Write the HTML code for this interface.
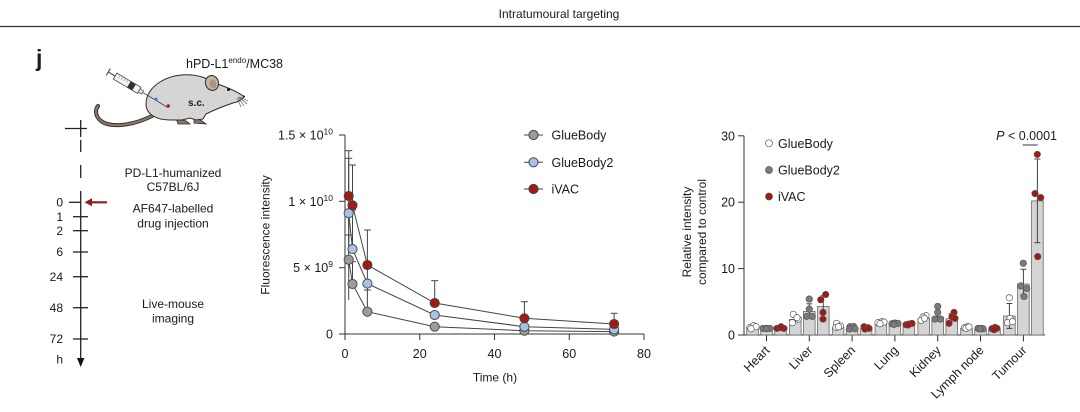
<!DOCTYPE html>
<html>
<head>
<meta charset="utf-8">
<style>
  html,body{margin:0;padding:0;background:#fff;}
  body{width:1080px;height:412px;overflow:hidden;}
  svg{display:block;font-family:"Liberation Sans",Arial,sans-serif;}
  text{fill:#1a1a1a;}
</style>
</head>
<body>
<svg width="1080" height="412" viewBox="0 0 1080 412" xmlns="http://www.w3.org/2000/svg">
  <!-- Header -->
  <text x="559" y="18" font-size="12" text-anchor="middle">Intratumoural targeting</text>
  <line x1="0" y1="26.5" x2="1080" y2="26.5" stroke="#333" stroke-width="1.3"/>

  <!-- Panel label -->
  <text x="36" y="66" font-size="23" font-weight="bold">j</text>

  <!-- Mouse label -->
  <text x="186" y="68" font-size="12.5">hPD-L1<tspan font-size="8" dy="-5">endo</tspan><tspan dy="5">/MC38</tspan></text>

  <!-- Mouse drawing -->
  <g>
    <!-- tail -->
    <path d="M152,116 C132,126 110,128 101,121 C95,116 95,110 98,106" fill="none" stroke="#2e2a27" stroke-width="4" stroke-linecap="round"/>
    <path d="M152,116 C132,126 110,128 101,121 C95,116 95,110 98,106" fill="none" stroke="#8b7868" stroke-width="2.2" stroke-linecap="round"/>
    <!-- feet -->
    <path d="M176,118 L186,121 L190,124 L178,124 Z" fill="#8b7868" stroke="#2e2a27" stroke-width="0.8"/>
    <path d="M194,117 L202,121 L206,124 L194,123 Z" fill="#8b7868" stroke="#2e2a27" stroke-width="0.8"/>
    <!-- body -->
    <path d="M146,104 C146,86 168,73 192,75 C202,76 208,79 214,83 C224,86 236,91 244,96.5 C242,100 238,102 233,103 C224,106 214,110 206,114 L203,119 L196,120 L190,118 L182,120 L170,120 C156,120 146,114 146,104 Z" fill="#d5d5d5" stroke="#2e2a27" stroke-width="1"/>
    <!-- ear -->
    <ellipse cx="212" cy="83" rx="6.5" ry="7.5" fill="#c6b4a4" stroke="#2e2a27" stroke-width="1" transform="rotate(-15 212 83)"/>
    <ellipse cx="213" cy="84" rx="3.5" ry="4.5" fill="#a99585" transform="rotate(-15 213 84)"/>
    <!-- eye and nose -->
    <circle cx="228.5" cy="89.5" r="1.5" fill="#111"/>
    <circle cx="244" cy="96.5" r="1" fill="#111"/>
    <!-- whiskers -->
    <g stroke="#444" stroke-width="0.6" fill="none">
      <path d="M238,97 L244,106"/>
      <path d="M239,97 L247,104"/>
      <path d="M237,98 L241,107"/>
      <path d="M240,97 L248,101"/>
    </g>
    <!-- syringe -->
    <g transform="translate(110,73) rotate(30.8)">
      <line x1="-2" y1="0" x2="6" y2="0" stroke="#555" stroke-width="1.2"/>
      <line x1="-2" y1="-4" x2="-2" y2="4" stroke="#555" stroke-width="1.2"/>
      <rect x="6" y="-3.5" width="28" height="7" fill="#f4f4f4" stroke="#444" stroke-width="0.8"/>
      <rect x="22" y="-3.5" width="6" height="7" fill="#333"/>
      <g stroke="#777" stroke-width="0.5">
        <line x1="10" y1="-3.5" x2="10" y2="0"/><line x1="13" y1="-3.5" x2="13" y2="0"/>
        <line x1="16" y1="-3.5" x2="16" y2="0"/><line x1="19" y1="-3.5" x2="19" y2="0"/>
      </g>
      <rect x="34" y="-2" width="4" height="4" fill="#ddd" stroke="#444" stroke-width="0.6"/>
      <line x1="38" y1="0" x2="67" y2="0" stroke="#333" stroke-width="0.8"/>
    </g>
    <circle cx="156" cy="99.3" r="1.7" fill="#3d82c7"/>
    <circle cx="168.3" cy="106" r="1.7" fill="#b01818"/>
    <text x="188" y="106" font-size="10" font-weight="bold">s.c.</text>
  </g>

  <!-- Timeline -->
  <g stroke="#222" stroke-width="1.3">
    <line x1="65" y1="128.5" x2="87" y2="128.5"/>
    <line x1="80.7" y1="120" x2="80.7" y2="137"/>
    <line x1="80.7" y1="140" x2="80.7" y2="152"/>
    <line x1="80.7" y1="165" x2="80.7" y2="178"/>
    <line x1="80.7" y1="191" x2="80.7" y2="360"/>
    <line x1="69" y1="202.3" x2="81" y2="202.3"/>
    <line x1="73" y1="216.7" x2="88" y2="216.7"/>
    <line x1="73" y1="230.7" x2="88" y2="230.7"/>
    <line x1="73" y1="252" x2="88" y2="252"/>
    <line x1="73" y1="276.7" x2="88" y2="276.7"/>
    <line x1="73" y1="307.7" x2="88" y2="307.7"/>
    <line x1="73" y1="339" x2="88" y2="339"/>
  </g>
  <polygon points="77,358 84.4,358 80.7,367" fill="#111"/>
  <!-- red arrow -->
  <line x1="90" y1="202.3" x2="107" y2="202.3" stroke="#8b1e1e" stroke-width="2.2"/>
  <polygon points="84.5,202.3 92,198.3 92,206.3" fill="#8b1e1e"/>
  <g font-size="12" text-anchor="end">
    <text x="63" y="206.5">0</text>
    <text x="63" y="220.9">1</text>
    <text x="63" y="234.9">2</text>
    <text x="63" y="256.2">6</text>
    <text x="63" y="280.9">24</text>
    <text x="63" y="311.9">48</text>
    <text x="63" y="343.2">72</text>
    <text x="63" y="363.5">h</text>
  </g>
  <g font-size="12" text-anchor="middle">
    <text x="173" y="177">PD-L1-humanized</text>
    <text x="173" y="191">C57BL/6J</text>
    <text x="173" y="212.5">AF647-labelled</text>
    <text x="173" y="227.5">drug injection</text>
    <text x="173" y="308">Live-mouse</text>
    <text x="173" y="322.5">imaging</text>
  </g>

  <!-- Middle chart -->
  <g stroke="#333" stroke-width="1">
    <line x1="345" y1="135" x2="345" y2="334.5"/>
    <line x1="345" y1="334" x2="644" y2="334"/>
    <line x1="339" y1="135" x2="345" y2="135"/>
    <line x1="339" y1="201.3" x2="345" y2="201.3"/>
    <line x1="339" y1="267.7" x2="345" y2="267.7"/>
    <line x1="339" y1="334" x2="345" y2="334"/>
    <line x1="345" y1="334" x2="345" y2="340"/>
    <line x1="419.75" y1="334" x2="419.75" y2="340"/>
    <line x1="494.5" y1="334" x2="494.5" y2="340"/>
    <line x1="569.25" y1="334" x2="569.25" y2="340"/>
    <line x1="644" y1="334" x2="644" y2="340"/>
  </g>
  <g font-size="12.5" text-anchor="end">
    <text x="333" y="139.5">1.5 × 10<tspan font-size="8.5" dy="-5">10</tspan></text>
    <text x="333" y="205.8">1 × 10<tspan font-size="8.5" dy="-5">10</tspan></text>
    <text x="333" y="272.2">5 × 10<tspan font-size="8.5" dy="-5">9</tspan></text>
    <text x="333" y="338.5">0</text>
  </g>
  <g font-size="12.5" text-anchor="middle">
    <text x="345" y="358">0</text>
    <text x="419.75" y="358">20</text>
    <text x="494.5" y="358">40</text>
    <text x="569.25" y="358">60</text>
    <text x="644" y="358">80</text>
  </g>
  <text x="495" y="381.5" font-size="12" text-anchor="middle">Time (h)</text>
  <text transform="translate(269.5,235) rotate(-90)" font-size="12" text-anchor="middle">Fluorescence intensity</text>

  <!-- error bars middle -->
  <g stroke="#444" stroke-width="1" fill="none">
    <!-- red -->
    <line x1="348.7" y1="150.7" x2="348.7" y2="241"/><line x1="345.2" y1="150.7" x2="352.2" y2="150.7"/>
    <line x1="352.5" y1="165" x2="352.5" y2="245"/><line x1="349" y1="165" x2="356" y2="165"/>
    <line x1="367.4" y1="230" x2="367.4" y2="290"/><line x1="363.9" y1="230" x2="370.9" y2="230"/>
    <line x1="434.7" y1="280.7" x2="434.7" y2="303"/><line x1="431.2" y1="280.7" x2="438.2" y2="280.7"/>
    <line x1="524.4" y1="301.7" x2="524.4" y2="318"/><line x1="520.9" y1="301.7" x2="527.9" y2="301.7"/>
    <line x1="614.1" y1="313.3" x2="614.1" y2="324"/><line x1="610.6" y1="313.3" x2="617.6" y2="313.3"/>
    <!-- blue -->
    <line x1="348.7" y1="158.3" x2="348.7" y2="268"/><line x1="345.2" y1="158.3" x2="352.2" y2="158.3"/>
    <line x1="352.5" y1="249" x2="352.5" y2="210"/><line x1="349" y1="210" x2="356" y2="210"/>
    <!-- grey -->
    <line x1="348.7" y1="235" x2="348.7" y2="300"/><line x1="345.2" y1="235" x2="352.2" y2="235"/>
    <line x1="352.5" y1="284" x2="352.5" y2="261.7"/><line x1="349" y1="261.7" x2="356" y2="261.7"/>
    <line x1="367.4" y1="290" x2="367.4" y2="311.7"/><line x1="363.9" y1="290" x2="370.9" y2="290"/>
  </g>
  <!-- lines -->
  <g fill="none" stroke="#444" stroke-width="1">
    <polyline points="348.7,259.7 352.5,284 367.4,311.7 434.7,326.7 524.4,330.7 614.1,331.6"/>
    <polyline points="348.7,213.2 352.5,249.1 367.4,283.6 434.7,315 524.4,326.7 614.1,329.4"/>
    <polyline points="348.7,196 352.5,205.3 367.4,265 434.7,303 524.4,318.3 614.1,324"/>
  </g>
  <!-- markers -->
  <g stroke="#444" stroke-width="0.9">
    <g fill="#9c9c9c">
      <circle cx="348.7" cy="259.7" r="4.6"/><circle cx="352.5" cy="284" r="4.6"/><circle cx="367.4" cy="311.7" r="4.6"/>
      <circle cx="434.7" cy="326.7" r="4.6"/><circle cx="524.4" cy="330.7" r="4.6"/><circle cx="614.1" cy="331.6" r="4.6"/>
    </g>
    <g fill="#a9c1e2">
      <circle cx="348.7" cy="213.2" r="4.6"/><circle cx="352.5" cy="249.1" r="4.6"/><circle cx="367.4" cy="283.6" r="4.6"/>
      <circle cx="434.7" cy="315" r="4.6"/><circle cx="524.4" cy="326.7" r="4.6"/><circle cx="614.1" cy="329.4" r="4.6"/>
    </g>
    <g fill="#a11b14">
      <circle cx="348.7" cy="196" r="4.6"/><circle cx="352.5" cy="205.3" r="4.6"/><circle cx="367.4" cy="265" r="4.6"/>
      <circle cx="434.7" cy="303" r="4.6"/><circle cx="524.4" cy="318.3" r="4.6"/><circle cx="614.1" cy="324" r="4.6"/>
    </g>
  </g>
  <!-- legend middle -->
  <g stroke="#444" stroke-width="1">
    <line x1="524" y1="135" x2="543" y2="135"/>
    <line x1="524" y1="162.3" x2="543" y2="162.3"/>
    <line x1="524" y1="189" x2="543" y2="189"/>
    <circle cx="533.5" cy="135" r="4.6" fill="#9c9c9c"/>
    <circle cx="533.5" cy="162.3" r="4.6" fill="#a9c1e2"/>
    <circle cx="533.5" cy="189" r="4.6" fill="#a11b14"/>
  </g>
  <g font-size="12.5">
    <text x="551.5" y="139.5">GlueBody</text>
    <text x="551.5" y="166.8">GlueBody2</text>
    <text x="551.5" y="193.5">iVAC</text>
  </g>

  <!-- Right chart -->
  <g stroke="#333" stroke-width="1">
    <line x1="744" y1="135.8" x2="744" y2="335.5"/>
    <line x1="744" y1="335" x2="1045" y2="335"/>
    <line x1="738" y1="135.8" x2="744" y2="135.8"/>
    <line x1="738" y1="202.2" x2="744" y2="202.2"/>
    <line x1="738" y1="268.6" x2="744" y2="268.6"/>
    <line x1="738" y1="335" x2="744" y2="335"/>
    <line x1="766.5" y1="335" x2="766.5" y2="341.5"/>
    <line x1="809.3" y1="335" x2="809.3" y2="341.5"/>
    <line x1="852.1" y1="335" x2="852.1" y2="341.5"/>
    <line x1="894.9" y1="335" x2="894.9" y2="341.5"/>
    <line x1="937.7" y1="335" x2="937.7" y2="341.5"/>
    <line x1="980.5" y1="335" x2="980.5" y2="341.5"/>
    <line x1="1023.4" y1="335" x2="1023.4" y2="341.5"/>
  </g>
  <g font-size="12.5" text-anchor="end">
    <text x="735" y="140.3">30</text>
    <text x="735" y="206.7">20</text>
    <text x="735" y="273.1">10</text>
    <text x="735" y="339.5">0</text>
  </g>
  <g font-size="12" text-anchor="middle" transform="translate(0,232) rotate(-90)">
    <text x="0" y="691">Relative intensity</text>
    <text x="0" y="706">compared to control</text>
  </g>
  <g font-size="12.5" text-anchor="end">
    <text x="770.5" y="351" transform="rotate(-45 770.5 351)">Heart</text>
    <text x="813.3" y="351" transform="rotate(-45 813.3 351)">Liver</text>
    <text x="856.1" y="351" transform="rotate(-45 856.1 351)">Spleen</text>
    <text x="898.9" y="351" transform="rotate(-45 898.9 351)">Lung</text>
    <text x="941.7" y="351" transform="rotate(-45 941.7 351)">Kidney</text>
    <text x="984.5" y="351" transform="rotate(-45 984.5 351)">Lymph node</text>
    <text x="1027.4" y="351" transform="rotate(-45 1027.4 351)">Tumour</text>
  </g>

  <!-- bars -->
  <g fill="#d4d4d4" stroke="#666" stroke-width="0.8">
    <rect x="746.7" y="327.4" width="11.6" height="7.6"/>
    <rect x="760.7" y="328.7" width="11.6" height="6.3"/>
    <rect x="774.7" y="329.0" width="11.6" height="6.0"/>
    <rect x="789.5" y="319.4" width="11.6" height="15.6"/>
    <rect x="803.5" y="311.4" width="11.6" height="23.6"/>
    <rect x="817.5" y="306.6" width="11.6" height="28.4"/>
    <rect x="832.3" y="327.7" width="11.6" height="7.3"/>
    <rect x="846.3" y="328.7" width="11.6" height="6.3"/>
    <rect x="860.3" y="328.7" width="11.6" height="6.3"/>
    <rect x="875.1" y="324.4" width="11.6" height="10.6"/>
    <rect x="889.1" y="325.4" width="11.6" height="9.6"/>
    <rect x="903.1" y="325.4" width="11.6" height="9.6"/>
    <rect x="917.9" y="318.4" width="11.6" height="16.6"/>
    <rect x="931.9" y="317.1" width="11.6" height="17.9"/>
    <rect x="945.9" y="318.7" width="11.6" height="16.3"/>
    <rect x="960.7" y="328.4" width="11.6" height="6.6"/>
    <rect x="974.7" y="329.0" width="11.6" height="6.0"/>
    <rect x="988.7" y="329.4" width="11.6" height="5.6"/>
    <rect x="1003.6" y="316.0" width="11.6" height="19"/>
    <rect x="1017.6" y="284.0" width="11.6" height="51"/>
    <rect x="1031.6" y="200.9" width="11.6" height="134.1"/>
  </g>
  <!-- bar error bars -->
  <g stroke="#444" stroke-width="1">
    <line x1="795.3" y1="315.1" x2="795.3" y2="323"/><line x1="792.3" y1="315.1" x2="798.3" y2="315.1"/>
    <line x1="809.3" y1="303.8" x2="809.3" y2="318"/><line x1="806.3" y1="303.8" x2="812.3" y2="303.8"/>
    <line x1="823.3" y1="295.8" x2="823.3" y2="317"/><line x1="820.3" y1="295.8" x2="826.3" y2="295.8"/>
    <line x1="937.7" y1="313.1" x2="937.7" y2="321"/><line x1="934.7" y1="313.1" x2="940.7" y2="313.1"/>
    <line x1="951.7" y1="313.8" x2="951.7" y2="323"/><line x1="948.7" y1="313.8" x2="954.7" y2="313.8"/>
    <line x1="1009.4" y1="303.5" x2="1009.4" y2="328.4"/><line x1="1006.4" y1="303.5" x2="1012.4" y2="303.5"/><line x1="1006.4" y1="328.4" x2="1012.4" y2="328.4"/>
    <line x1="1023.4" y1="269.3" x2="1023.4" y2="295.2"/><line x1="1020.4" y1="269.3" x2="1026.4" y2="269.3"/><line x1="1020.4" y1="295.2" x2="1026.4" y2="295.2"/>
    <line x1="1037.4" y1="159" x2="1037.4" y2="242.7"/><line x1="1034.4" y1="159" x2="1040.4" y2="159"/><line x1="1034.4" y1="242.7" x2="1040.4" y2="242.7"/>
  </g>
  <!-- dots -->
  <g stroke="#555" stroke-width="0.7">
    <g fill="#ffffff">
      <circle cx="750" cy="327.4" r="3.2"/><circle cx="753.5" cy="325.7" r="3.2"/><circle cx="756" cy="326.7" r="3.2"/><circle cx="751" cy="328.7" r="3.2"/>
      <circle cx="793.3" cy="314.4" r="3.2"/><circle cx="798.3" cy="319.1" r="3.2"/><circle cx="792.3" cy="322.7" r="3.2"/><circle cx="797" cy="317.7" r="3.2"/>
      <circle cx="836.5" cy="323.4" r="3.2"/><circle cx="840.5" cy="326.0" r="3.2"/><circle cx="836" cy="327.4" r="3.2"/><circle cx="838.5" cy="326.7" r="3.2"/>
      <circle cx="878" cy="322.7" r="3.2"/><circle cx="882" cy="321.7" r="3.2"/><circle cx="884" cy="322.1" r="3.2"/><circle cx="880" cy="323.7" r="3.2"/>
      <circle cx="926" cy="315.7" r="3.2"/><circle cx="923" cy="317.1" r="3.2"/><circle cx="921" cy="320.4" r="3.2"/><circle cx="924.5" cy="318.4" r="3.2"/>
      <circle cx="964.5" cy="327.7" r="3.2"/><circle cx="968" cy="326.7" r="3.2"/><circle cx="966" cy="328.4" r="3.2"/><circle cx="969" cy="327.0" r="3.2"/>
      <circle cx="1009.3" cy="297.8" r="3.2"/><circle cx="1010" cy="318.4" r="3.2"/><circle cx="1007.5" cy="322.7" r="3.2"/><circle cx="1012.5" cy="321.7" r="3.2"/>
    </g>
    <g fill="#7b7b7b">
      <circle cx="763" cy="328.4" r="3.2"/><circle cx="766.5" cy="328.4" r="3.2"/><circle cx="770" cy="328.4" r="3.2"/><circle cx="766.5" cy="328.7" r="3.2"/>
      <circle cx="809.3" cy="299.1" r="3.2"/><circle cx="809.3" cy="309.1" r="3.2"/><circle cx="806.7" cy="316.4" r="3.2"/><circle cx="812.3" cy="316.4" r="3.2"/>
      <circle cx="850" cy="326.7" r="3.2"/><circle cx="853.5" cy="326.4" r="3.2"/><circle cx="849.5" cy="329.0" r="3.2"/><circle cx="855" cy="328.7" r="3.2"/>
      <circle cx="892" cy="323.7" r="3.2"/><circle cx="895" cy="323.0" r="3.2"/><circle cx="898" cy="323.4" r="3.2"/><circle cx="894" cy="324.4" r="3.2"/>
      <circle cx="937.7" cy="306.4" r="3.2"/><circle cx="937.7" cy="312.4" r="3.2"/><circle cx="935" cy="319.1" r="3.2"/><circle cx="940.5" cy="319.1" r="3.2"/>
      <circle cx="978" cy="328.4" r="3.2"/><circle cx="981" cy="328.4" r="3.2"/><circle cx="983" cy="328.7" r="3.2"/><circle cx="980" cy="329.0" r="3.2"/>
      <circle cx="1023.3" cy="263.3" r="3.2"/><circle cx="1020.7" cy="285.9" r="3.2"/><circle cx="1026.7" cy="288.5" r="3.2"/><circle cx="1024" cy="296.5" r="3.2"/>
    </g>
    <g fill="#a11a12">
      <circle cx="777" cy="328.4" r="3.2"/><circle cx="780.5" cy="327.7" r="3.2"/><circle cx="784" cy="328.4" r="3.2"/><circle cx="781" cy="326.7" r="3.2"/>
      <circle cx="825.7" cy="294.5" r="3.2"/><circle cx="820.7" cy="299.8" r="3.2"/><circle cx="823" cy="312.4" r="3.2"/><circle cx="823" cy="319.1" r="3.2"/>
      <circle cx="864" cy="326.7" r="3.2"/><circle cx="868" cy="327.7" r="3.2"/><circle cx="865" cy="329.0" r="3.2"/><circle cx="869" cy="328.4" r="3.2"/>
      <circle cx="906" cy="324.7" r="3.2"/><circle cx="909" cy="324.0" r="3.2"/><circle cx="912" cy="323.4" r="3.2"/><circle cx="908" cy="325.0" r="3.2"/>
      <circle cx="954" cy="312.4" r="3.2"/><circle cx="952" cy="316.7" r="3.2"/><circle cx="955" cy="318.4" r="3.2"/><circle cx="949" cy="323.4" r="3.2"/>
      <circle cx="992" cy="328.7" r="3.2"/><circle cx="995" cy="327.4" r="3.2"/><circle cx="997" cy="328.4" r="3.2"/><circle cx="994" cy="329.7" r="3.2"/>
      <circle cx="1037.3" cy="154.4" r="3.2"/><circle cx="1035" cy="193.6" r="3.2"/><circle cx="1040.7" cy="197.6" r="3.2"/><circle cx="1037.7" cy="256.6" r="3.2"/>
    </g>
  </g>
  <!-- right legend -->
  <g stroke="#555" stroke-width="0.7">
    <circle cx="769" cy="143.3" r="3.5" fill="#fff"/>
    <circle cx="769" cy="170" r="3.5" fill="#7b7b7b"/>
    <circle cx="769" cy="196.5" r="3.5" fill="#a11a12"/>
  </g>
  <g font-size="12.5">
    <text x="778" y="147.8">GlueBody</text>
    <text x="778" y="174.5">GlueBody2</text>
    <text x="778" y="201">iVAC</text>
  </g>
  <!-- significance -->
  <line x1="1022.7" y1="145" x2="1037.7" y2="145" stroke="#333" stroke-width="1"/>
  <text x="1057" y="140" font-size="12.5" text-anchor="end"><tspan font-style="italic">P</tspan> &lt; 0.0001</text>
</svg>
</body>
</html>
